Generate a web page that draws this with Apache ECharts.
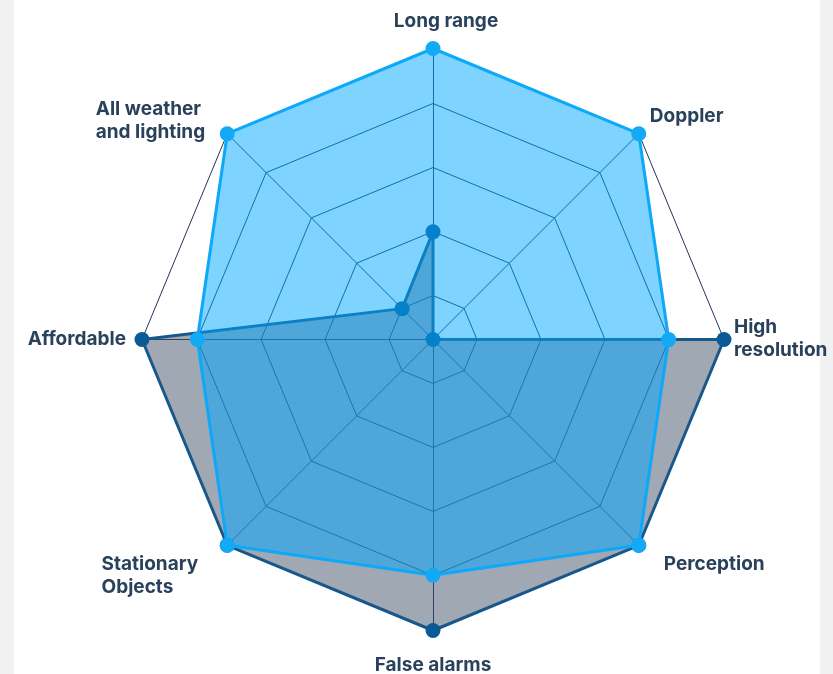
<!DOCTYPE html>
<html><head><meta charset="utf-8">
<script src="https://cdn.jsdelivr.net/npm/echarts@6/dist/echarts.min.js"></script>
<style>
html,body{margin:0;padding:0;background:#f1f1f1;overflow:hidden;}
#card{position:absolute;left:14px;top:0;width:806px;height:674px;background:#fff;}
#chart{position:absolute;left:0;top:0;width:833px;height:674px;}
</style></head><body>
<div id="card"></div><div id="chart"></div>
<script>
// Indicators in ECharts (counter-clockwise from top) order
const categories = ['Long range', 'All weather\nand lighting', 'Affordable', 'Stationary\nObjects', 'False alarms', 'Perception', 'High\nresolution', 'Doppler'];
const scoreMin = 0;
const scoreMax = 100;
const darkValues = [37, 15, 100, 100, 100, 100, 100, 0];
const lightValues = [100, 100, 81, 100, 81, 100, 81, 100];
const ringMin = 15.1;   // innermost grid ring
const ringMax = 81.1;   // outermost inner grid ring
const ringSplits = 3;

const R = 291, C = [433, 339.5];
const gridColor = '#22345a';
const textColor = '#29415a';
const FONT = {fontFamily: 'Inter', fontWeight: 700, fontSize: 19, color: textColor, lineHeight: 23};
// label nudges [top spacer, right pad, bottom spacer, left pad]
const nameShift = [[0,0,6,26],[0,15,12,0],[0,6,0,0],[46,22,0,0],[13,0,0,0],[24,0,0,18],[0,0,2,0],[0,0,21,4]];

const rich = {};
categories.forEach((c, i) => {
  const s = nameShift[i];
  rich['n' + i] = Object.assign({}, FONT, {align: 'left', padding: [0, s[1], 0, s[3]]});
  if (s[0]) rich['st' + i] = {fontSize: 1, lineHeight: s[0], align: 'left'};
  if (s[2]) rich['sb' + i] = {fontSize: 1, lineHeight: s[2], align: 'left'};
});

const chart = echarts.init(document.getElementById('chart'), null, {renderer: 'canvas'});
chart.setOption({
  animation: false,
  radar: [
    {
      center: C, radius: R, startAngle: 90, splitNumber: 1, shape: 'polygon',
      indicator: categories.map(n => ({name: n, min: scoreMin, max: scoreMax})),
      axisNameGap: 10,
      axisName: Object.assign({}, FONT, {
        formatter: (value) => {
          const i = categories.indexOf(value);
          const s = nameShift[i];
          let parts = value.split('\n').map(l => '{n' + i + '|' + l + '}');
          if (s[0]) parts.unshift('{st' + i + '| }');
          if (s[2]) parts.push('{sb' + i + '| }');
          return parts.join('\n');
        },
        rich: rich
      }),
      axisLine: {lineStyle: {color: gridColor, width: 1}},
      splitLine: {lineStyle: {color: gridColor, width: 1}},
      splitArea: {show: false}
    },
    {
      center: C, radius: [R * ringMin / scoreMax, R * ringMax / scoreMax], startAngle: 90,
      splitNumber: ringSplits, shape: 'polygon', silent: true,
      indicator: categories.map(() => ({name: '', min: ringMin, max: ringMax})),
      axisName: {show: false},
      axisLine: {show: false},
      splitLine: {lineStyle: {color: gridColor, width: 1}},
      splitArea: {show: false}
    }
  ],
  series: [
    {
      type: 'radar', radarIndex: 0, symbol: 'circle', symbolSize: 15, z: 3,
      data: [{
        value: darkValues,
        lineStyle: {color: '#0b5a96', width: 3},
        itemStyle: {color: '#0b5a96'},
        areaStyle: {color: 'rgba(65,81,105,0.5)', opacity: 1}
      }]
    },
    {
      type: 'radar', radarIndex: 0, symbol: 'circle', symbolSize: 15, z: 4,
      data: [{
        value: lightValues,
        lineStyle: {color: '#12a9f7', width: 3},
        itemStyle: {color: '#12a9f7'},
        areaStyle: {color: 'rgba(0,168,255,0.5)', opacity: 1}
      }]
    }
  ]
});
</script>
</body></html>
